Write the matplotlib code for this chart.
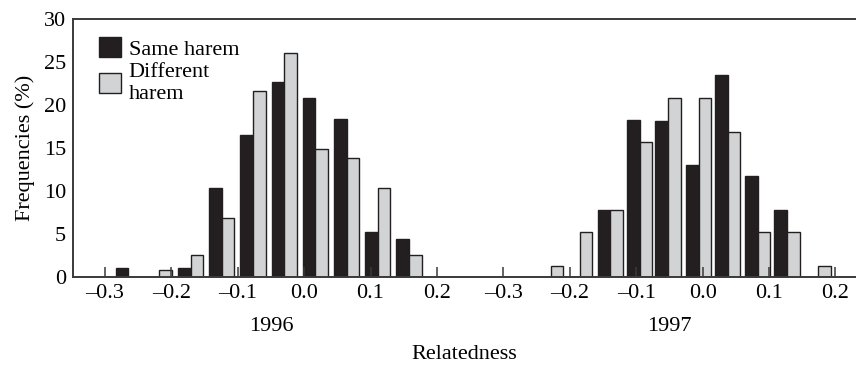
import matplotlib
matplotlib.use('Agg')
import matplotlib.pyplot as plt
from matplotlib.patches import Patch
import matplotlib.transforms as mtransforms

plt.rcParams['font.family'] = ['Liberation Serif', 'DejaVu Serif']

# Bin centres (relatedness) and frequencies (%)
centres_1996 = [-0.265, -0.218, -0.171, -0.124, -0.077, -0.030, 0.017, 0.064, 0.111, 0.158]
same_1996 = [1.0, 0.0, 1.0, 10.4, 16.6, 22.7, 20.9, 18.4, 5.3, 4.4]
diff_1996 = [0.0, 0.8, 2.6, 6.9, 21.7, 26.1, 14.9, 13.9, 10.4, 2.6]

centres_1997 = [-0.229, -0.185, -0.139, -0.095, -0.052, -0.006, 0.038, 0.083, 0.127, 0.174]
same_1997 = [0.0, 0.0, 7.8, 18.3, 18.2, 13.1, 23.5, 11.8, 7.8, 0.0]
diff_1997 = [1.25, 5.3, 7.8, 15.7, 20.9, 20.9, 16.9, 5.2, 5.2, 1.25]

years = ['1996', '1997']
tick_values = [-0.3, -0.2, -0.1, 0.0, 0.1, 0.2]
tick_labels = ['–0.3', '–0.2', '–0.1', '0.0', '0.1', '0.2']
offset_1997 = 0.6  # second panel shifted along the shared axis

black = '#231f20'
grey = '#d1d3d4'
bw = 0.019
fs = 16

fig = plt.figure(figsize=(8.56, 3.67), dpi=100)
ax = fig.add_axes([0.0853, 0.245, 0.9147, 0.702])

for centres, same, diff, off in [(centres_1996, same_1996, diff_1996, 0.0),
                                 (centres_1997, same_1997, diff_1997, offset_1997)]:
    xs = [c + off for c in centres]
    ax.bar(xs, same, width=-bw, align='edge', color=black, edgecolor=black, linewidth=1.0)
    ax.bar(xs, diff, width=bw, align='edge', color=grey, edgecolor=black, linewidth=1.0)

ticks = tick_values + [t + offset_1997 for t in tick_values]
ax.set_xticks(ticks)
ax.set_xticklabels(tick_labels * 2)
ax.tick_params(axis='x', direction='in', length=7, width=1.1, color='#3a3a3a',
               labelsize=fs, pad=5)
ax.set_yticks(range(0, 31, 5))
ax.tick_params(axis='y', length=0, labelsize=fs, pad=5)

ax.set_xlim(-0.348, 0.831)
ax.set_ylim(0, 30)
ax.spines['right'].set_visible(False)
for s in ['left', 'top', 'bottom']:
    ax.spines[s].set_linewidth(1.4)
    ax.spines[s].set_color('#3a3a3a')

trans = mtransforms.blended_transform_factory(ax.transData, ax.transAxes)
for year, off in zip(years, [0.0, offset_1997]):
    ax.text(-0.05 + off, -0.19, year, transform=trans, ha='center', va='center', fontsize=fs)

ax.set_xlabel('Relatedness', fontsize=fs, labelpad=30)
ax.set_ylabel('Frequencies (%)', fontsize=fs, labelpad=6)

handles = [Patch(facecolor=black, edgecolor=black), Patch(facecolor=grey, edgecolor=black)]
ax.legend(handles, ['Same harem', 'Different\nharem'], loc='upper left',
          bbox_to_anchor=(0.01, 1.0), frameon=False, fontsize=fs,
          handlelength=1.0, handleheight=1.0, handletextpad=0.35,
          labelspacing=0.15, borderaxespad=0.4)

fig.savefig('out.png', dpi=100)
